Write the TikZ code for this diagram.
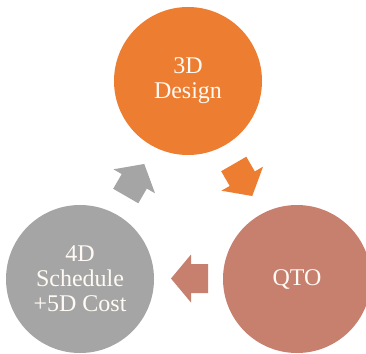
\documentclass[tikz,border=0pt]{standalone}
\usepackage{fontspec}
\setmainfont{Liberation Serif}
\definecolor{designorange}{RGB}{237,125,49}
\definecolor{qtorose}{RGB}{199,127,110}
\definecolor{costgray}{RGB}{165,165,165}
\definecolor{labelwhite}{RGB}{255,250,244}
\tikzset{
  stage/.style={circle, inner sep=0pt, minimum size=148pt, text=labelwhite,
    align=center, font=\fontsize{24}{25}\selectfont}
}
% block arrow pointing along +x, centred on the origin of the current scope
\newcommand{\blockarrow}[1]{%
  \fill[#1] (-18.5,-14.5) -- (-1.5,-14.5) -- (-1.5,-24) -- (18.5,0)
    -- (-1.5,24) -- (-1.5,14.5) -- (-18.5,14.5) -- cycle;}
\begin{document}
\begin{tikzpicture}[x=1pt,y=-1pt]
  \useasboundingbox (0,0) rectangle (366,353);
  \fill[white] (0,0) rectangle (366,353);

  \node[stage, fill=designorange] (design) at (188,81) {\raisebox{-3pt}{\parbox{90pt}{\centering 3D\\Design}}};
  \node[stage, fill=qtorose] (qto) at (297,279) {QTO};
  \node[stage, fill=costgray] (cost) at (80,279) {4D\\Schedule\\+5D Cost};

  \begin{scope}[shift={(243,180)}, rotate=-60]
    \blockarrow{designorange}
  \end{scope}
  \begin{scope}[shift={(189.5,278.5)}, rotate=180]
    \blockarrow{qtorose}
  \end{scope}
  \begin{scope}[shift={(135,180)}, rotate=60]
    \blockarrow{costgray}
  \end{scope}
\end{tikzpicture}
\end{document}
